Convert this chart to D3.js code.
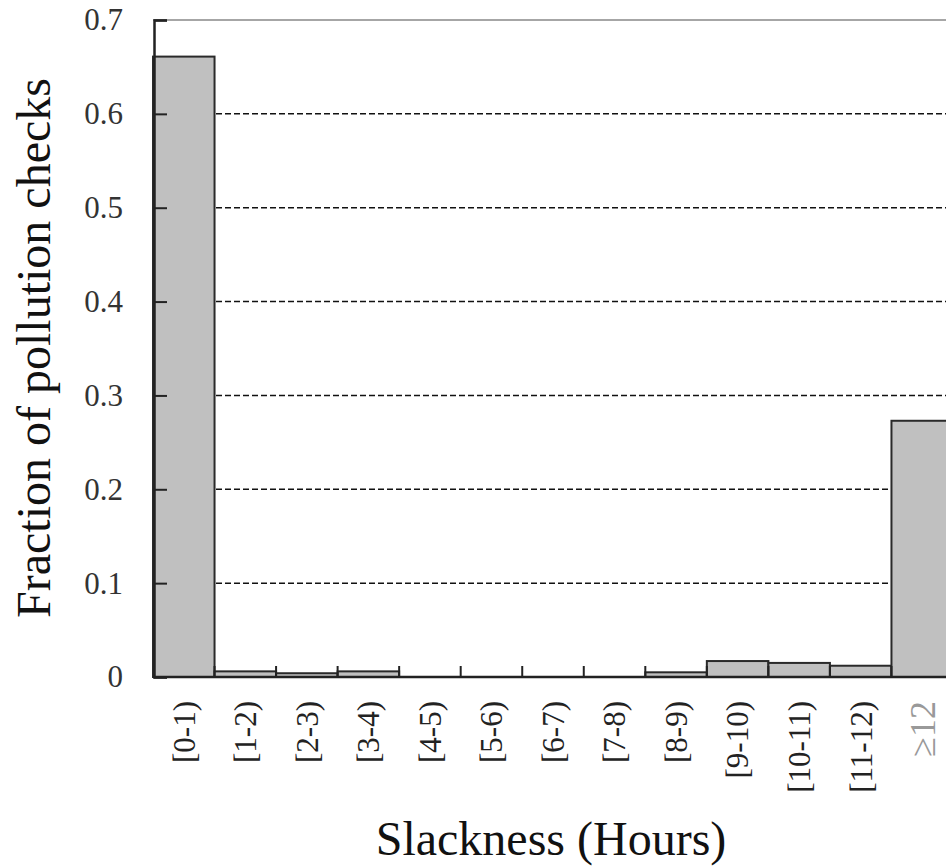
<!DOCTYPE html>
<html>
<head>
<meta charset="utf-8">
<script src="https://cdn.jsdelivr.net/npm/d3@7"></script>
<style>
  body { margin: 0; background: #fff; }
  svg { display: block; }
  text { font-family: "Liberation Serif", "Times New Roman", serif; }
</style>
</head>
<body>
<svg width="946" height="868"></svg>
<script>
var categories = ["[0-1)", "[1-2)", "[2-3)", "[3-4)", "[4-5)", "[5-6)", "[6-7)", "[7-8)", "[8-9)", "[9-10)", "[10-11)", "[11-12)", "\u226512"];
var fractions = [0.661, 0.006, 0.004, 0.006, 0, 0, 0, 0, 0.005, 0.017, 0.015, 0.012, 0.273];
var yTicks = [0, 0.1, 0.2, 0.3, 0.4, 0.5, 0.6, 0.7];

var svg = d3.select("svg");

var x = d3.scaleBand().domain(categories).range([153, 953]).padding(0);
var y = d3.scaleLinear().domain([0, 0.7]).range([677, 20]);

// dashed grid lines
svg.append("g").selectAll("line")
    .data(yTicks.filter(d => d > 0 && d < 0.7)).enter().append("line")
    .attr("x1", 153).attr("x2", 946)
    .attr("y1", d => y(d)).attr("y2", d => y(d))
    .attr("stroke", "#111").attr("stroke-width", 1.5)
    .attr("stroke-dasharray", "6,3");

// top frame line
svg.append("line")
    .attr("x1", 153).attr("x2", 946)
    .attr("y1", y(0.7)).attr("y2", y(0.7))
    .attr("stroke", "#888").attr("stroke-width", 1.5);

// bars
svg.append("g").selectAll("rect")
    .data(categories).enter().append("rect")
    .attr("x", d => x(d))
    .attr("width", x.bandwidth())
    .attr("y", (d, i) => y(fractions[i]))
    .attr("height", (d, i) => y(0) - y(fractions[i]))
    .attr("fill", "#c0c0c0")
    .attr("stroke", "#2a2a2a").attr("stroke-width", 2);

// y axis
var yAxis = d3.axisLeft(y).tickValues(yTicks).tickSize(-13)
    .tickFormat(d => d === 0 ? "0" : d3.format(".1f")(d));
var gy = svg.append("g").attr("transform", "translate(154,0)").call(yAxis);
gy.select(".domain").attr("stroke", "#222").attr("stroke-width", 2.5);
gy.selectAll(".tick line").attr("stroke", "#222").attr("stroke-width", 2);
gy.selectAll(".tick text")
    .attr("x", -31)
    .attr("font-size", 31)
    .attr("fill", "#333")
    .attr("font-family", "Liberation Serif");

// x axis
var gx = svg.append("g").attr("transform", "translate(0,677)");
gx.append("line").attr("x1", 153).attr("x2", 946)
    .attr("stroke", "#222").attr("stroke-width", 2.5);
gx.selectAll(".xt")
    .data(categories.slice(1)).enter().append("line")
    .attr("class", "xt")
    .attr("x1", d => x(d)).attr("x2", d => x(d))
    .attr("y1", 0).attr("y2", -11)
    .attr("stroke", "#222").attr("stroke-width", 2);
gx.selectAll("text")
    .data(categories).enter().append("text")
    .attr("transform", d => "translate(" + (x(d) + x.bandwidth() / 2) + ",24) rotate(-90)")
    .attr("text-anchor", "end")
    .attr("dy", "0.35em")
    .attr("font-size", d => d === "\u226512" ? 36 : 31)
    .attr("fill", d => d === "\u226512" ? "#999" : "#222")
    .text(d => d);

// axis titles
svg.append("text")
    .attr("transform", "translate(50,348) rotate(-90)")
    .attr("text-anchor", "middle")
    .attr("font-size", 48)
    .attr("fill", "#111")
    .text("Fraction of pollution checks");

svg.append("text")
    .attr("x", 551).attr("y", 855)
    .attr("text-anchor", "middle")
    .attr("font-size", 48)
    .attr("fill", "#111")
    .text("Slackness (Hours)");
</script>
</body>
</html>
